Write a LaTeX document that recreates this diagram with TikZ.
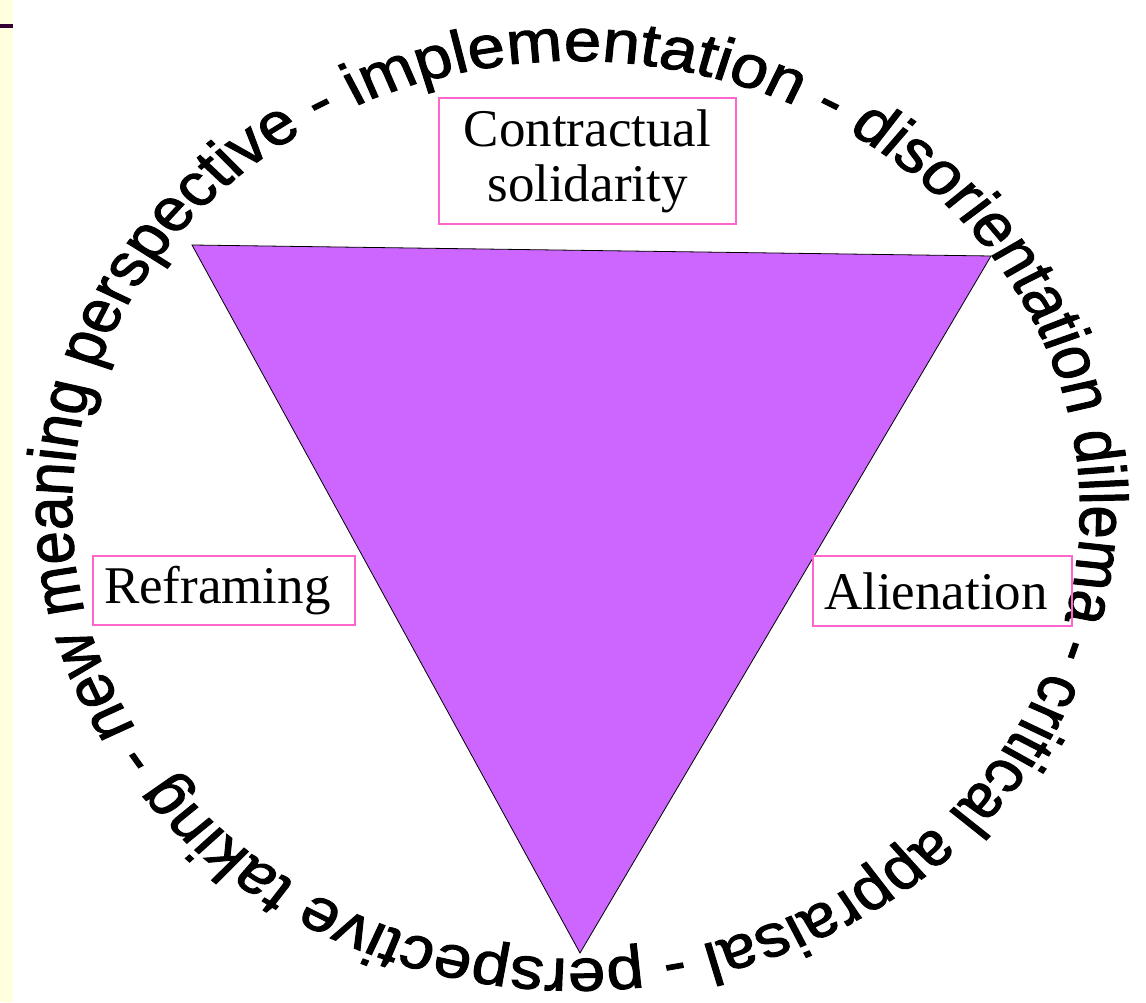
\documentclass[tikz,border=0pt]{standalone}
\usepackage{fontspec}
\setmainfont{Liberation Serif}
\newfontfamily\ringfont[FakeBold=1.6]{Liberation Sans}
\usepackage{tikz}
\usetikzlibrary{decorations.text, calc}
\definecolor{trifill}{HTML}{CC66FF}
\definecolor{boxpink}{HTML}{FF66CC}
\definecolor{stripyellow}{HTML}{FFFFE0}
\definecolor{barpurple}{HTML}{330033}
\tikzset{
  labelbox/.style = {rectangle, draw=boxpink, line width=1.3pt,
                     align=center, inner sep=0pt,
                     font=\fontsize{53}{55}\selectfont},
  wedge/.style    = {fill=trifill, draw=black, line width=0.8pt, line join=miter}
}

\begin{document}
\begin{tikzpicture}[
    x=1pt, y=1pt,
    ringpath/.style = {decorate, decoration={text along path, text align=left,
        text={|\ringfont\fontsize{59.8}{60}\selectfont|implementation - disorientation dillema - critical appraisal - perspective taking - new meaning perspective - }}}
]
\useasboundingbox (0,0) rectangle (1146,1002);

% Slide margin
\fill[stripyellow] (0,0) rectangle (13,1002);
\draw[barpurple, line width=3.5pt] (0,976) -- (13,976);

% Text ring
\begin{scope}[transform canvas={xscale=1.1225}]
  \coordinate (ringc) at ({576/1.1225}, 492);
  \path[ringpath] (ringc) ++(116:449) arc[start angle=116, end angle=-244, radius=449];
\end{scope}

% Triangle
\coordinate (tl) at (192, 757);
\coordinate (tr) at (991, 746);
\coordinate (bot) at (580, 49);
\draw[wedge] (tl) -- (tr) -- (bot) -- cycle;

% Labels
\node[ labelbox, minimum width=297pt, minimum height=126pt
] at (587.5, 841) (solid) {
    Contractual\\solidarity
};

\node[ labelbox, minimum width=262pt, minimum height=69pt
] at (224, 411.5) (refr) {
    Reframing
};

\node[ labelbox, minimum width=259pt, minimum height=70pt
] at (942.5, 411) (alien) {
    Alienation
};

\end{tikzpicture}
\end{document}
